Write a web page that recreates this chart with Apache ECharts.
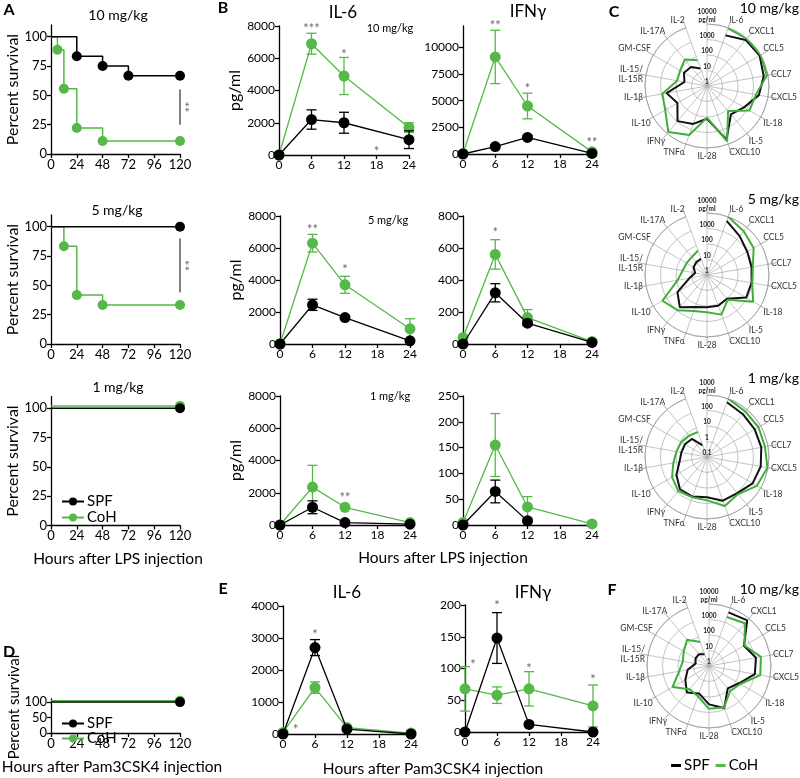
<!DOCTYPE html>
<html><head><meta charset="utf-8">
<script src="https://cdn.jsdelivr.net/npm/echarts@6/dist/echarts.min.js"></script>
<style>html,body{margin:0;padding:0;background:#fff}#c{width:800px;height:778px}</style>
</head><body><div id="c"></div>
<script>
// ================= DATA =================
const survHourTicks = [0, 24, 48, 72, 96, 120];
const survPctTicks = [0, 25, 50, 75, 100];
const survPctTicksD = [0, 50, 100];
// survival [hour, percent]
const survA10_SPF = [[0,100],[24,83.3],[48,75],[72,66.7],[120,66.7]];
const survA10_CoH = [[0,100],[6,88.9],[12,55.6],[24,22.2],[48,11.1],[120,11.1]];
const survA5_SPF  = [[0,100],[120,100]];
const survA5_CoH  = [[0,100],[12,83.3],[24,41.7],[48,33.3],[120,33.3]];
const survA1_SPF  = [[0,100],[120,100]];
const survA1_CoH  = [[0,102],[120,102]];
const survD_SPF   = [[0,100],[120,100]];
const survD_CoH   = [[0,104],[120,104]];
// significance brackets [low, high, star x, star text]
const sigA10 = [25, 55, 130, '**'];
const sigA5  = [44, 90, 130, '**'];

const timeHours = [0, 6, 12, 24];
// LPS 10 mg/kg
const il6_10_SPF = [0, 2200, 2000, 950],   il6_10_SPF_sem = [0, 600, 650, 550];
const il6_10_CoH = [0, 6900, 4900, 1700],  il6_10_CoH_sem = [0, 650, 1150, 300];
const ifn_10_SPF = [0, 700, 1550, 50],     ifn_10_SPF_sem = [0, 120, 180, 30];
const ifn_10_CoH = [50, 9100, 4500, 200],  ifn_10_CoH_sem = [30, 2500, 1200, 100];
// LPS 5 mg/kg
const il6_5_SPF = [0, 2450, 1650, 200],    il6_5_SPF_sem = [0, 350, 100, 100];
const il6_5_CoH = [0, 6300, 3700, 950],    il6_5_CoH_sem = [0, 550, 530, 630];
const ifn_5_SPF = [0, 320, 130, 10],       ifn_5_SPF_sem = [0, 57, 15, 5];
const ifn_5_CoH = [40, 560, 165, 15],      ifn_5_CoH_sem = [10, 92, 50, 5];
// LPS 1 mg/kg
const il6_1_SPF = [0, 1100, 150, 50],      il6_1_SPF_sem = [0, 400, 50, 30];
const il6_1_CoH = [0, 2350, 1100, 150],    il6_1_CoH_sem = [0, 1350, 100, 50];
const ifn_1_SPF = [0, 65, 8, null],        ifn_1_SPF_sem = [0, 22, 3, null];
const ifn_1_CoH = [5, 155, 35, 2],         ifn_1_CoH_sem = [2, 61, 20, 1];
// Pam3CSK4
const il6_P_SPF = [0, 2700, 150, 0],       il6_P_SPF_sem = [0, 250, 50, 0];
const il6_P_CoH = [50, 1450, 200, 30],     il6_P_CoH_sem = [0, 180, 50, 10];
const ifn_P_SPF = [0, 148, 12, 0],         ifn_P_SPF_sem = [0, 40, 3, 0];
const ifn_P_CoH = [68, 58, 68, 41],        ifn_P_CoH_sem = [35, 13, 27, 33];
// stars [hour, y, text]
const star_il6_10 = [[6, 8000, '***'], [12, 6400, '*'], [18, 400, '*']];
const star_ifn_10 = [[6, 12300, '**'], [12, 6400, '*'], [24, 1300, '**']];
const star_il6_5  = [[6, 7300, '**'], [12, 4800, '*']];
const star_ifn_5  = [[6, 715, '*']];
const star_il6_1  = [[12, 1900, '**']];
const star_il6_P  = [[6, 3200, '*'], [2.4, 220, '*']];
const star_ifn_P  = [[1.5, 110, '*'], [6, 203, '*'], [12, 105, '*'], [24, 87, '*']];

// radar (pg/ml), order after blank top spoke
const cytokines = ['', 'IL-6','CXCL1','CCL5','CCL7','CXCL5','IL-18','IL-5','CXCL10','IL-28','TNFα','IFNγ','IL-10','IL-1β','IL-15/\nIL-15R','GM-CSF','IL-17A','IL-2'];
const rad10_SPF = [3000,7600,8300,5200,2500,575,250,4800,130,400,910,160,440,30,52,40,16];
const rad10_CoH = [9100,10000,10000,8300,1600,1450,130,6300,110,2300,7600,1300,830,90,100,170,58];
const rad5_SPF  = [5200,1900,1000,830,830,830,100,130,120,160,525,160,14,6,10,12,13];
const rad5_CoH  = [10000,4800,3000,1000,910,2750,120,525,250,300,910,2100,83,40,33,33,48];
const rad1_SPF  = [575,400,360,360,330,250,110,100,40,52,52,19,6.3,4.8,4.4,3.3,0.63];
const rad1_CoH  = [1000,690,690,630,910,520,132,230,63,58,76,40,16,10,8.3,6.3,5.2];
const radP_SPF  = [4800,6900,400,1200,1000,170,76,760,300,76,170,58,25,7.6,10,10,6.3];
const radP_CoH  = [2300,4000,440,2500,2300,210,130,690,580,120,90,525,90,52,76,160,44];

// ================= BUILD =================
const FONT = 'Lato, "Open Sans", sans-serif';
const GREEN = '#55b848';
const BLACK = '#000000';
const grids = [], xAxis = [], yAxis = [], series = [], graphic = [], legend = [];
const polar = [], angleAxis = [], radiusAxis = [];

const lineAx = {show:true, lineStyle:{color:'#000', width:1.3}};
const tickAx = {show:true, length:4, lineStyle:{color:'#000', width:1.3}};
function labAx(size) { return {color:'#000', fontSize:size, fontFamily:FONT, margin:4, formatter:v=>String(v)}; }

function addCart(left, top, width, height, xmax, xint, ymax, yticks, yname, nameGap, lsize) {
  const gi = grids.length;
  const ls = lsize || 12;
  grids.push({left, top, width, height});
  xAxis.push({gridIndex:gi, type:'value', min:0, max:xmax, interval:xint,
    axisLine:lineAx, axisTick:tickAx, axisLabel:labAx(ls), splitLine:{show:false}});
  yAxis.push({gridIndex:gi, type:'value', min:0, max:ymax,
    axisLine:lineAx, axisTick:Object.assign({customValues:yticks}, tickAx),
    axisLabel:Object.assign({customValues:yticks}, labAx(ls)), splitLine:{show:false},
    name:yname||'', nameLocation:'middle', nameGap:nameGap||30,
    nameTextStyle:{fontSize:16, fontFamily:FONT, color:'#000'}});
  return gi;
}
function addSurv(gi, data, name, color, z) {
  series.push({type:'line', name, xAxisIndex:gi, yAxisIndex:gi, step:'end',
    data:data.map((d,i)=> i===0 ? {value:d, symbol:'none'} : d),
    symbol:'circle', symbolSize:10, itemStyle:{color}, lineStyle:{color, width:1.5},
    z, silent:true, animation:false, clip:false});
}
function addBracket(gi, sig) {
  series.push({type:'line', xAxisIndex:gi, yAxisIndex:gi, data:[[120,sig[0]],[120,sig[1]]],
    symbol:'none', lineStyle:{color:'#000', width:1}, silent:true, animation:false, clip:false});
  series.push({type:'scatter', xAxisIndex:gi, yAxisIndex:gi, data:[[sig[2],(sig[0]+sig[1])/2, sig[3]]],
    symbolSize:1, itemStyle:{color:'rgba(0,0,0,0)'}, clip:false, silent:true, animation:false,
    label:{show:true, position:'inside', formatter:p=>p.value[2], rotate:90,
      color:'#444', fontSize:13, fontFamily:FONT}});
}
function errSeries(gi, mean, sem, color, z) {
  const data = [];
  timeHours.forEach((t,i)=>{ if (mean[i]!=null && sem[i]>0) data.push([t, mean[i]-sem[i], mean[i]+sem[i]]); });
  return {type:'custom', xAxisIndex:gi, yAxisIndex:gi, data, z, silent:true, animation:false, clip:false,
    encode:{x:0, y:[1,2]},
    renderItem(params, api) {
      const x = api.value(0);
      const lo = api.coord([x, api.value(1)]), hi = api.coord([x, api.value(2)]);
      const w = 5, st = {stroke:color, lineWidth:1.3};
      return {type:'group', children:[
        {type:'line', shape:{x1:lo[0], y1:lo[1], x2:hi[0], y2:hi[1]}, style:st},
        {type:'line', shape:{x1:hi[0]-w, y1:hi[1], x2:hi[0]+w, y2:hi[1]}, style:st},
        {type:'line', shape:{x1:lo[0]-w, y1:lo[1], x2:lo[0]+w, y2:lo[1]}, style:st}]};
    }};
}
function addTime(gi, mean, sem, name, color, z) {
  series.push(errSeries(gi, mean, sem, color, z));
  const pts = [];
  timeHours.forEach((t,i)=>{ if (mean[i]!=null) pts.push([t, mean[i]]); });
  series.push({type:'line', name, xAxisIndex:gi, yAxisIndex:gi, data:pts, symbol:'circle', symbolSize:11,
    itemStyle:{color}, lineStyle:{color, width:1.3}, z, silent:true, animation:false, clip:false});
}
function addStars(gi, arr) {
  series.push({type:'scatter', xAxisIndex:gi, yAxisIndex:gi, data:arr, symbolSize:1,
    itemStyle:{color:'rgba(0,0,0,0)'}, clip:false, silent:true, animation:false, z:10,
    label:{show:true, position:'inside', formatter:p=>p.value[2], offset:[0,3],
      color:'#444', fontSize:13, fontFamily:FONT}});
}
function addPolar(cx, cy, r, rmin, rmax) {
  const pi = polar.length;
  polar.push({center:[cx, cy], radius:r});
  angleAxis.push({polarIndex:pi, type:'category', data:cytokines, boundaryGap:false, startAngle:90, clockwise:true,
    axisLine:{show:true, lineStyle:{color:'#999', width:0.8}},
    axisTick:{show:true, length:9, lineStyle:{color:'#999', width:0.8}},
    axisLabel:{show:true, interval:0, fontSize:8.5, color:'#333', fontFamily:FONT, margin:3, lineHeight:10},
    splitLine:{show:true, lineStyle:{color:'#aaa', width:0.7}}});
  radiusAxis.push({polarIndex:pi, type:'log', logBase:10, min:rmin, max:rmax,
    axisLine:{show:false}, axisTick:{show:false},
    axisLabel:{show:true, fontSize:6.5, fontWeight:'bold', color:'#222', fontFamily:FONT, margin:0, align:'center',
      verticalAlign:'bottom', lineHeight:8,
      formatter:v=> (Math.abs(v-rmax)<1e-9 ? v + '\npg/ml' : String(v))},
    splitLine:{show:true, lineStyle:{color:'#aaa', width:0.7}}});
  return pi;
}
function addRadar(pi, vals, name, color, z) {
  series.push({type:'line', coordinateSystem:'polar', polarIndex:pi, name, data:vals.map((v,i)=>[v, i+1]),
    symbol:'none', lineStyle:{color, width:2}, itemStyle:{color}, z, silent:true, animation:false});
}
function txt(text, x, y, size, opts) {
  graphic.push(Object.assign({type:'text', x, y, silent:true,
    style:Object.assign({text, fontSize:size, fontFamily:FONT, fill:'#000', align:'center', verticalAlign:'middle'}, (opts||{}).style||{})},
    opts && opts.rotation!=null ? {rotation:opts.rotation} : {}));
}

// ---- Panel A ----
let g;
g = addCart(51, 25, 129, 129, 120, 24, 110, survPctTicks, 'Percent survival', 28, 13);
addSurv(g, survA10_CoH, 'CoH', GREEN, 2); addSurv(g, survA10_SPF, 'SPF', BLACK, 3); addBracket(g, sigA10);
g = addCart(51, 215, 129, 129, 120, 24, 110, survPctTicks, 'Percent survival', 28, 13);
addSurv(g, survA5_CoH, 'CoH', GREEN, 2); addSurv(g, survA5_SPF, 'SPF', BLACK, 3); addBracket(g, sigA5);
g = addCart(51, 396.5, 129, 129, 120, 24, 110, survPctTicks, 'Percent survival', 28, 13);
addSurv(g, survA1_CoH, 'CoH', GREEN, 2); addSurv(g, survA1_SPF, 'SPF', BLACK, 3);
// ---- Panel D (compressed y axis) ----
g = addCart(51, 699, 129, 34, 120, 24, 110, survPctTicksD, '', 28, 13);
addSurv(g, survD_CoH, 'CoH', GREEN, 2); addSurv(g, survD_SPF, 'SPF', BLACK, 3);

// ---- Panel B ----
g = addCart(279, 26, 130, 129, 24, 6, 8000, [0,2000,4000,6000,8000], 'pg/ml', 36);
addTime(g, il6_10_CoH, il6_10_CoH_sem, 'CoH', GREEN, 2); addTime(g, il6_10_SPF, il6_10_SPF_sem, 'SPF', BLACK, 3); addStars(g, star_il6_10);
g = addCart(463, 26, 129, 128, 24, 6, 12000, [0,2500,5000,7500,10000]);
addTime(g, ifn_10_CoH, ifn_10_CoH_sem, 'CoH', GREEN, 2); addTime(g, ifn_10_SPF, ifn_10_SPF_sem, 'SPF', BLACK, 3); addStars(g, star_ifn_10);
g = addCart(280, 216, 130, 128, 24, 6, 8000, [0,2000,4000,6000,8000], 'pg/ml', 36);
addTime(g, il6_5_CoH, il6_5_CoH_sem, 'CoH', GREEN, 2); addTime(g, il6_5_SPF, il6_5_SPF_sem, 'SPF', BLACK, 3); addStars(g, star_il6_5);
g = addCart(463, 216, 129, 128, 24, 6, 800, [0,200,400,600,800]);
addTime(g, ifn_5_CoH, ifn_5_CoH_sem, 'CoH', GREEN, 2); addTime(g, ifn_5_SPF, ifn_5_SPF_sem, 'SPF', BLACK, 3); addStars(g, star_ifn_5);
g = addCart(280, 396, 130, 129, 24, 6, 8000, [0,2000,4000,6000,8000], 'pg/ml', 36);
addTime(g, il6_1_CoH, il6_1_CoH_sem, 'CoH', GREEN, 2); addTime(g, il6_1_SPF, il6_1_SPF_sem, 'SPF', BLACK, 3); addStars(g, star_il6_1);
g = addCart(463, 396, 129, 129, 24, 6, 250, [0,50,100,150,200,250]);
addTime(g, ifn_1_CoH, ifn_1_CoH_sem, 'CoH', GREEN, 2); addTime(g, ifn_1_SPF, ifn_1_SPF_sem, 'SPF', BLACK, 3);
// ---- Panel E ----
g = addCart(283, 606, 128, 128, 24, 6, 4000, [0,1000,2000,3000,4000]);
addTime(g, il6_P_CoH, il6_P_CoH_sem, 'CoH', GREEN, 2); addTime(g, il6_P_SPF, il6_P_SPF_sem, 'SPF', BLACK, 3); addStars(g, star_il6_P);
g = addCart(465, 605, 128, 127, 24, 6, 200, [0,50,100,150,200]);
addTime(g, ifn_P_CoH, ifn_P_CoH_sem, 'CoH', GREEN, 2); addTime(g, ifn_P_SPF, ifn_P_SPF_sem, 'SPF', BLACK, 3); addStars(g, star_ifn_P);

// ---- Panel C / F radars ----
let p;
p = addPolar(707, 86, 62, 1, 10000);   addRadar(p, rad10_SPF, 'SPF', '#111', 2); addRadar(p, rad10_CoH, 'CoH', '#3fae3a', 3);
p = addPolar(707, 275, 62, 1, 10000);  addRadar(p, rad5_SPF, 'SPF', '#111', 2);  addRadar(p, rad5_CoH, 'CoH', '#3fae3a', 3);
p = addPolar(707, 457, 62, 0.1, 1000); addRadar(p, rad1_SPF, 'SPF', '#111', 2);  addRadar(p, rad1_CoH, 'CoH', '#3fae3a', 3);
p = addPolar(709, 666, 62, 1, 10000);  addRadar(p, radP_SPF, 'SPF', '#111', 2);  addRadar(p, radP_CoH, 'CoH', '#3fae3a', 3);

// ---- legends ----
legend.push({data:['SPF','CoH'], orient:'vertical', left:56, top:489, itemWidth:22, itemHeight:10, itemGap:1,
  selectedMode:false, textStyle:{fontSize:15, fontFamily:FONT, color:'#000', padding:[0,0,0,-2]}});
legend.push({data:['SPF','CoH'], orient:'vertical', left:56, top:711, itemWidth:22, itemHeight:10, itemGap:0,
  selectedMode:false, textStyle:{fontSize:15, fontFamily:FONT, color:'#000', padding:[0,0,0,-2]}});
legend.push({data:[{name:'SPF', icon:'rect'}, {name:'CoH', icon:'rect'}], orient:'horizontal', left:666, top:753,
  itemWidth:10, itemHeight:3, itemGap:6, selectedMode:false,
  textStyle:{fontSize:15, fontFamily:FONT, color:'#000', padding:[0,0,0,-2]}});

// ---- texts ----
const B = {style:{fontWeight:'bold'}};
txt('A', 9, 10, 16, B); txt('B', 223, 8, 16, B); txt('C', 614, 12, 16, B);
txt('D', 9, 652, 16, B); txt('E', 223, 589, 16, B); txt('F', 612, 590, 16, B);
txt('10 mg/kg', 118, 15, 14); txt('5 mg/kg', 117, 210, 14); txt('1 mg/kg', 118, 387, 14);
txt('Percent survival', 14, 707, 15, {rotation:Math.PI/2});
txt('Hours after LPS injection', 118, 559, 15.5);
txt('Hours after Pam3CSK4 injection', 112, 767, 15.5);
txt('IL-6', 343, 13, 17); txt('IFNγ', 528, 12, 17);
txt('10 mg/kg', 390, 28, 11); txt('5 mg/kg', 388, 220, 11); txt('1 mg/kg', 390, 396, 11);
txt('Hours after LPS injection', 443, 558, 15.5);
txt('IL-6', 347, 593, 17); txt('IFNγ', 533, 593, 17);
txt('Hours after Pam3CSK4 injection', 433, 769, 15.5);
const R = {style:{align:'right'}};
txt('10 mg/kg', 799, 8, 14, R); txt('5 mg/kg', 799, 199, 14, R); txt('1 mg/kg', 799, 378, 14, R); txt('10 mg/kg', 799, 589, 14, R);

const chart = echarts.init(document.getElementById('c'), null, {renderer:'canvas'});
chart.setOption({animation:false, backgroundColor:'#fff', grid:grids, xAxis, yAxis, polar, angleAxis, radiusAxis,
  series, legend, graphic});
</script></body></html>
